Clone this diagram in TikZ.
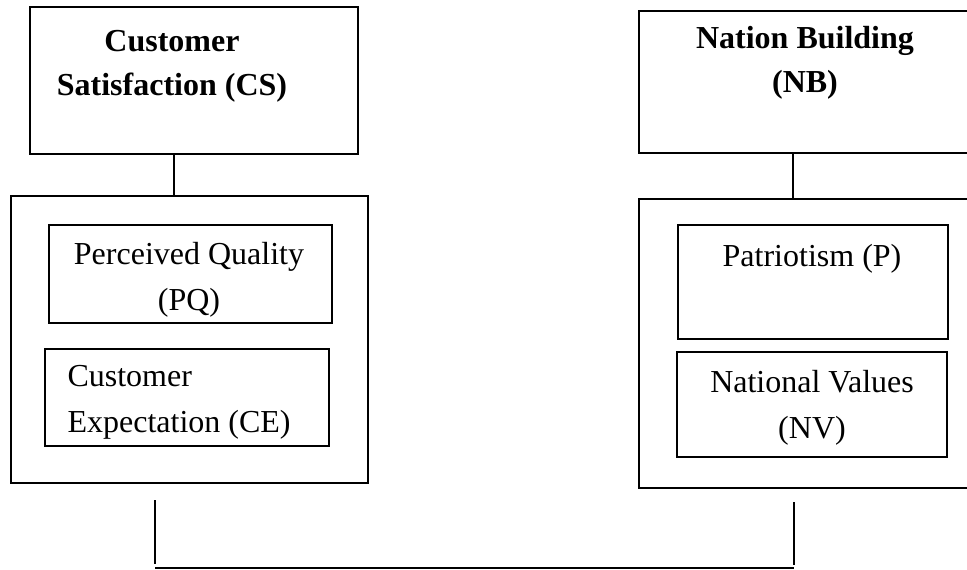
\documentclass[tikz,border=0pt]{standalone}
\usepackage{fontspec}
\setmainfont{Liberation Serif}
\usetikzlibrary{positioning, calc}
\tikzset{
  framebox/.style={
    rectangle, draw=black, line width=0.6pt,
    inner sep=0pt
  },
  boxtext/.style={
    inner sep=0pt, anchor=base, align=center,
    font=\fontsize{12}{16.9}\selectfont
  },
  headtext/.style={boxtext, font=\fontsize{12}{16.2}\selectfont\bfseries},
  link/.style={line width=0.6pt, black}
}

\begin{document}
\begin{tikzpicture}[x=0.375pt, y=-0.375pt]
  \useasboundingbox (0,0) rectangle (967,569);

  % Customer satisfaction side
  \node[framebox, minimum width=328*0.375pt, minimum height=147*0.375pt] (cs) at (194,80.5) {};
  \node[headtext] (cs_txt) at (172,95) {Customer\\Satisfaction (CS)};

  \node[framebox, minimum width=357*0.375pt, minimum height=287*0.375pt] (cs_grp) at (189.5,339.5) {};

  \node[framebox, minimum width=283*0.375pt, minimum height=98*0.375pt] (pq) at (190.5,274) {};
  \node[boxtext] (pq_txt) at (189,310) {Perceived Quality\\(PQ)};

  \node[framebox, minimum width=284*0.375pt, minimum height=97*0.375pt] (ce) at (187,397.5) {};
  \node[boxtext, align=left, anchor=base west] (ce_txt) at (67,432) {Customer\\Expectation (CE)};

  % Nation building side
  \node[framebox, minimum width=361*0.375pt, minimum height=142*0.375pt] (nb) at (819.5,82) {};
  \node[headtext] (nb_txt) at (805,92) {Nation Building\\(NB)};

  \node[framebox, minimum width=361*0.375pt, minimum height=289*0.375pt] (nb_grp) at (819.5,343.5) {};

  \node[framebox, minimum width=270*0.375pt, minimum height=114*0.375pt] (pat) at (813,282) {};
  \node[boxtext] (pat_txt) at (812,266) {Patriotism (P)};

  \node[framebox, minimum width=270*0.375pt, minimum height=105*0.375pt] (nv) at (812,404.5) {};
  \node[boxtext] (nv_txt) at (812,438) {National Values\\(NV)};

  % Links
  \coordinate (cs_lnk) at (174,0);
  \coordinate (nb_lnk) at (793,0);
  \draw[link] (cs.south -| cs_lnk) -- (cs_grp.north -| cs_lnk);
  \draw[link] (nb.south -| nb_lnk) -- (nb_grp.north -| nb_lnk);

  % Bottom bracket
  \coordinate (left_top) at (155,500);
  \coordinate (left_end) at (155,564);
  \coordinate (right_top) at (794,502);
  \coordinate (right_end) at (794,565);
  \coordinate (base_l) at (155,568);
  \coordinate (base_r) at (794,568);
  \draw[link] (left_top) -- (left_end);
  \draw[link] (right_top) -- (right_end);
  \draw[link] (base_l) -- (base_r);

\end{tikzpicture}
\end{document}
